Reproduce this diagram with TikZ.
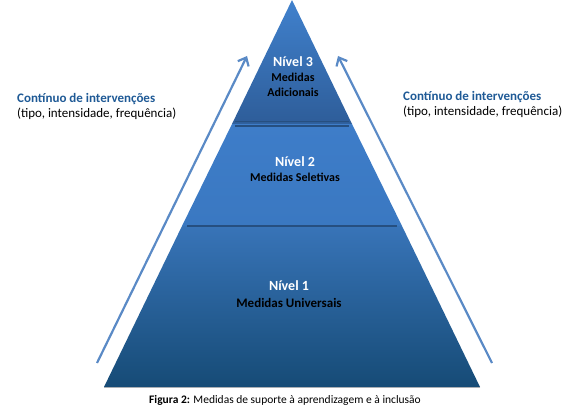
\documentclass[tikz,border=0pt]{standalone}
\usepackage{fontspec}
\setmainfont{Carlito}
\usetikzlibrary{arrows.meta}
\definecolor{arrowblue}{HTML}{5A8AC6}
\definecolor{titleblue}{HTML}{1F5A96}
\definecolor{divline}{HTML}{264F80}
\tikzset{
  lvlnum/.style={text=white, font=\fontsize{14}{16}\selectfont\bfseries, inner sep=0pt},
  lvlname/.style={text=black, font=\fontsize{12}{15}\selectfont\bfseries, align=center, inner sep=0pt},
  sidetext/.style={align=left, inner sep=0pt, anchor=west, font=\fontsize{13}{15}\selectfont},
  uparrow/.style={draw=arrowblue, line width=2.2pt, -{Straight Barb[length=7pt,width=12pt,line width=2.2pt]}},
  divider/.style={draw=divline, line cap=butt}
}
\begin{document}
\begin{tikzpicture}[x=1pt,y=1pt]
\useasboundingbox (0,0) rectangle (583,413);
% pyramid levels
\shade[top color={rgb,255:red,64;green,129;blue,205}, bottom color={rgb,255:red,46;green,93;blue,153}]
  (292,413) -- (232,289) -- (352,289) -- cycle;
\shade[top color={rgb,255:red,62;green,125;blue,201}, bottom color={rgb,255:red,58;green,120;blue,193}]
  (232,289) -- (352,289) -- (402,187) -- (182,187) -- cycle;
\shade[top color={rgb,255:red,56;green,116;blue,184}, bottom color={rgb,255:red,22;green,75;blue,118}]
  (182,187) -- (402,187) -- (480,26) -- (104,26) -- cycle;
% base shadow
\draw[draw={rgb,255:red,170;green,175;blue,180}, line width=1.2pt] (104,25.2) -- (480,25.2);
% dividers
\draw[divider, line width=1pt] (235,291.5) -- (349,291.5);
\draw[divider, line width=1.8pt] (235,287) -- (349,287);
\draw[divider, line width=1.6pt] (187,187) -- (397,187);
% level texts
\node[lvlnum] (n3) at (293,351) {Nível 3};
\node[lvlname] (m3) at (293,328) {Medidas\\Adicionais};
\node[lvlnum] (n2) at (295,251) {Nível 2};
\node[lvlname] (m2) at (295,236) {Medidas Seletivas};
\node[lvlnum] (n1) at (289,127) {Nível 1};
\node[lvlname, font=\fontsize{13}{15}\selectfont\bfseries] (m1) at (289,110) {Medidas Universais};
% side texts
\node[sidetext] (lt) at (17,306.5) {\textcolor{titleblue}{\textbf{Contínuo de intervenções}}\\(tipo, intensidade, frequência)};
\node[sidetext] (rt) at (403,308.5) {\textcolor{titleblue}{\textbf{Contínuo de intervenções}}\\(tipo, intensidade, frequência)};
% arrows
\coordinate (la) at (97,50);
\coordinate (lb) at (247,357);
\coordinate (ra) at (492,50);
\coordinate (rb) at (338,357);
\draw[uparrow] (la) -- (lb);
\draw[uparrow] (ra) -- (rb);
% caption
\node[inner sep=0pt, font=\fontsize{11.5}{13}\selectfont] (cap) at (285,13) {\textbf{Figura 2:} Medidas de suporte à aprendizagem e à inclusão};
\end{tikzpicture}
\end{document}
